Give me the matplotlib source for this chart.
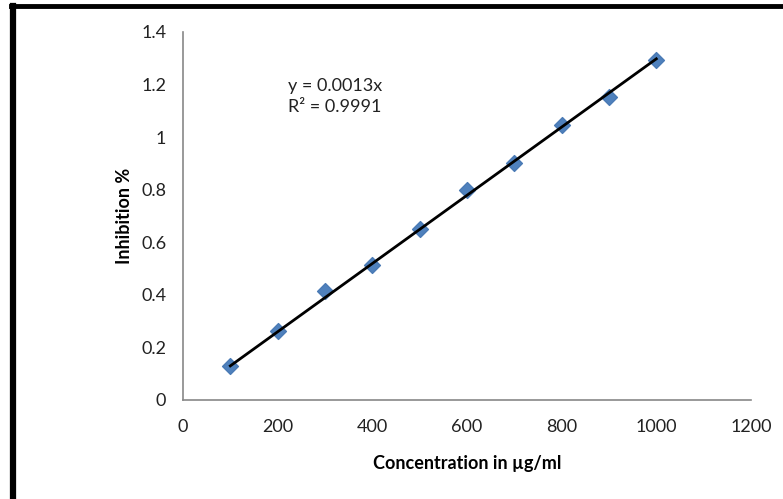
import numpy as np
import matplotlib.pyplot as plt
from matplotlib.lines import Line2D

conc = [100, 200, 300, 400, 500, 600, 700, 800, 900, 1000]
inhibition = [0.13, 0.263, 0.414, 0.513, 0.65, 0.797, 0.90, 1.046, 1.152, 1.295]
x_ticks = [0, 200, 400, 600, 800, 1000, 1200]
y_ticks = [0, 0.2, 0.4, 0.6, 0.8, 1.0, 1.2, 1.4]
y_ticklabels = ["0", "0.2", "0.4", "0.6", "0.8", "1", "1.2", "1.4"]

plt.rcParams["font.family"] = ["Lato", "DejaVu Sans"]

fig = plt.figure(figsize=(7.83, 4.99), dpi=100)
ax = fig.add_axes([0.2337, 0.1984, 0.7254, 0.7375])

x = np.array(conc)
y = np.array(inhibition)
slope = np.sum(x * y) / np.sum(x * x)

ax.scatter(x, y, marker="D", s=65, color="#4f81bd", edgecolors="#4a7ab5", zorder=2)
ax.plot([x.min(), x.max()], [slope * x.min(), slope * x.max()], color="black", lw=2, zorder=3)

ax.set_xlim(0, 1200)
ax.set_ylim(0, 1.4)
ax.set_xticks(x_ticks)
ax.set_yticks(y_ticks)
ax.set_yticklabels(y_ticklabels)
ax.tick_params(length=0, labelsize=13, colors="#222222", pad=12)
ax.tick_params(axis="x", pad=14)

for s in ["top", "right"]:
    ax.spines[s].set_visible(False)
for s in ["left", "bottom"]:
    ax.spines[s].set_color("#888888")
    ax.spines[s].set_linewidth(1.2)

ax.set_xlabel("Concentration in µg/ml", fontsize=13, fontweight="bold", labelpad=14)
ax.set_ylabel("Inhibition %", fontsize=13, fontweight="bold", labelpad=6)

ax.text(0.185, 0.875, "y = 0.0013x\nR² = 0.9991", transform=ax.transAxes,
        fontsize=13, va="top", ha="left", linespacing=1.4, color="#222222")

# frame around the picture, only left and top like in the original
fig.add_artist(Line2D([0.017, 0.017], [0, 0.988], transform=fig.transFigure, color="black", lw=4.5))
fig.add_artist(Line2D([0.014, 1.0], [0.987, 0.987], transform=fig.transFigure, color="black", lw=3.5))

fig.savefig("out.png", dpi=100)
